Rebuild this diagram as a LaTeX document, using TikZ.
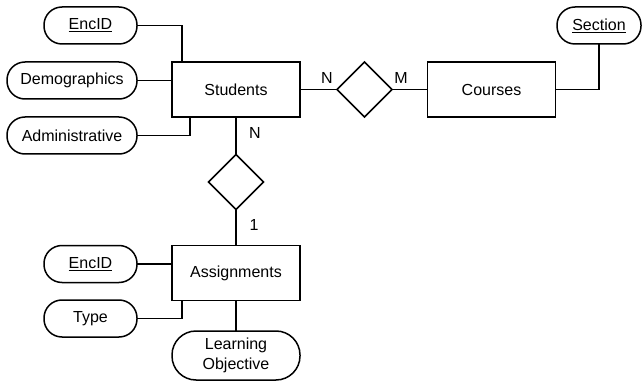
\documentclass[tikz,border=0pt]{standalone}
\usepackage{fontspec}
\setmainfont{Liberation Sans}
\usetikzlibrary{shapes.geometric}
\begin{document}
\begin{tikzpicture}[x=1pt,y=-1pt,
  every node/.style={font=\fontsize{16}{18}\selectfont},
  entity/.style={draw, line width=1.5pt, rectangle, minimum width=128pt, minimum height=55pt, inner sep=0pt, outer sep=0pt},
  attr/.style={draw, line width=1.5pt, rectangle, rounded corners=18pt, minimum height=37pt, inner sep=0pt, outer sep=0pt},
  rel/.style={draw, line width=1.5pt, diamond, minimum width=55pt, minimum height=55pt, inner sep=0pt, outer sep=0pt},
  conn/.style={line width=1.5pt},
  card/.style={inner sep=0pt}]
\useasboundingbox (0,0) rectangle (642,382);
% entities
\node[entity] (students) at (236,89.5) {Students};
\node[entity] (courses) at (491.5,89.5) {Courses};
\node[entity] (assign) at (236,273) {Assignments};
% relationships
\node[rel] (r1) at (364.5,89.5) {};
\node[rel] (r2) at (236,182) {};
% attributes
\node[attr, minimum width=93pt] (enc1) at (90.5,25.5) {\underline{EncID}};
\node[attr, minimum width=130pt] (demo) at (72,80.5) {Demographics};
\node[attr, minimum width=130pt] (adm) at (72,135.5) {Administrative};
\node[attr, minimum width=84pt] (sect) at (599,25.5) {\underline{Section}};
\node[attr, minimum width=93pt] (enc2) at (90.5,264) {\underline{EncID}};
\node[attr, minimum width=93pt] (type) at (90.5,318.5) {Type};
\node[attr, minimum width=128pt, minimum height=49pt, rounded corners=24pt, align=center,
      font=\fontsize{16}{20}\selectfont] (lo) at (236,355.5) {Learning\\Objective};
% connectors
\draw[conn] (enc1.east) -| ([xshift=10pt]students.north west);
\draw[conn] (demo.east) -- (demo.east -| students.west);
\draw[conn] (adm.east) -| ([xshift=18pt]students.south west);
\draw[conn] (students.east) -- (r1.west);
\draw[conn] (r1.east) -- (courses.west);
\draw[conn] (courses.east) -| (sect.south);
\draw[conn] (students.south) -- (r2.north);
\draw[conn] (r2.south) -- (assign.north);
\draw[conn] (enc2.east) -- (enc2.east -| assign.west);
\draw[conn] (type.east) -| ([xshift=10pt]assign.south west);
\draw[conn] (assign.south) -- (lo.north);
% cardinalities
\node[card] (cN1) at (327,78) {N};
\node[card] (cM) at (401,78) {M};
\node[card] (cN2) at (255,133) {N};
\node[card] (c1) at (254,225) {1};
\end{tikzpicture}
\end{document}
